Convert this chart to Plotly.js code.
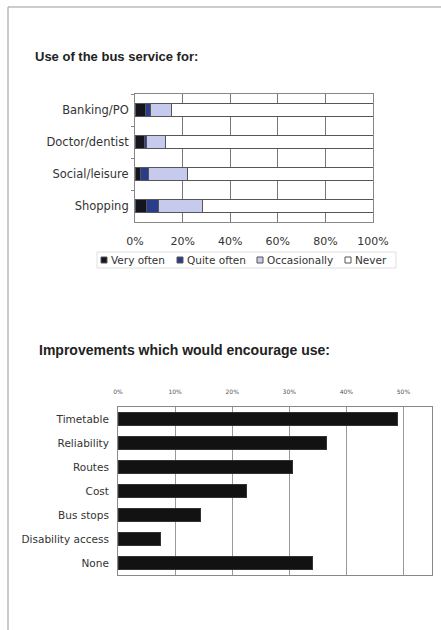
<!DOCTYPE html>
<html>
<head>
<meta charset="utf-8">
<script src="https://cdn.plot.ly/plotly-3.0.1.min.js"></script>
<style>
html,body{margin:0;padding:0;background:#fff;}
#chart{width:441px;height:630px;}
</style>
</head>
<body>
<div id="chart"></div>
<script>
// Top chart: use of the bus service (share of respondents, %)
const useCategories = ['Banking/PO', 'Doctor/dentist', 'Social/leisure', 'Shopping'];
const veryOften    = [4.2, 4.0, 2.5, 5.0];
const quiteOften   = [2.5, 1.0, 3.0, 5.0];
const occasionally = [8.5, 8.0, 16.5, 18.5];
const never        = [84.8, 87.0, 78.0, 71.5];
const useSeriesNames = ['Very often', 'Quite often', 'Occasionally', 'Never'];
const useTickVals = [0, 20, 40, 60, 80, 100];
const useTickText = ['0%', '20%', '40%', '60%', '80%', '100%'];

// Bottom chart: improvements which would encourage use (fraction)
const improvCategories = ['Timetable', 'Reliability', 'Routes', 'Cost', 'Bus stops', 'Disability access', 'None'];
const improvValues = [0.49, 0.365, 0.305, 0.225, 0.145, 0.075, 0.34];
const improvTickVals = [0, 0.1, 0.2, 0.3, 0.4, 0.5];
const improvTickText = ['0%', '10%', '20%', '30%', '40%', '50%'];

const W = 441, H = 630;
const px = v => v / W;
const py = v => 1 - v / H;
const FONT = 'DejaVu Sans, Verdana, sans-serif';

const useColors = ['#15151f', '#2a3d8a', '#c6cbed', '#ffffff'];
const useSeries = [veryOften, quiteOften, occasionally, never];

const traces = useSeries.map((vals, i) => ({
  type: 'bar',
  orientation: 'h',
  name: useSeriesNames[i],
  y: useCategories,
  x: vals,
  xaxis: 'x',
  yaxis: 'y',
  width: 0.4,
  showlegend: false,
  marker: {color: useColors[i], line: {color: '#555555', width: 1}}
}));

traces.push({
  type: 'bar',
  orientation: 'h',
  name: 'Improvements',
  y: improvCategories,
  x: improvValues,
  xaxis: 'x2',
  yaxis: 'y2',
  width: 0.55,
  showlegend: false,
  marker: {color: '#121212', line: {color: '#333333', width: 1}}
});

// custom compact legend (Excel style: small square right next to the text)
const legendSymX = [101, 177, 257, 345];   // pixel layout of legend entries
const legendY = 260;
const legendShapes = [{
  type: 'rect', xref: 'paper', yref: 'paper',
  x0: px(97), x1: px(396), y0: py(268), y1: py(252),
  line: {color: '#e0e0e0', width: 1}, fillcolor: 'rgba(0,0,0,0)'
}];
const legendAnnots = [];
useSeriesNames.forEach((name, i) => {
  legendShapes.push({
    type: 'rect', xref: 'paper', yref: 'paper',
    x0: px(legendSymX[i]), x1: px(legendSymX[i] + 6),
    y0: py(legendY + 3), y1: py(legendY - 3),
    fillcolor: useColors[i], line: {color: '#555555', width: 1}
  });
  legendAnnots.push({
    text: name, xref: 'paper', yref: 'paper',
    x: px(legendSymX[i] + 8), y: py(legendY), xanchor: 'left', yanchor: 'middle',
    showarrow: false, font: {family: FONT, size: 10.5, color: '#333'}
  });
});

const layout = {
  width: W,
  height: H,
  margin: {l: 0, r: 0, t: 0, b: 0},
  paper_bgcolor: '#ffffff',
  plot_bgcolor: '#ffffff',
  barmode: 'stack',
  font: {family: FONT, color: '#222', size: 10},
  showlegend: false,
  xaxis: {
    domain: [px(135), px(373)],
    anchor: 'y',
    range: [0, 100],
    tickvals: useTickVals,
    ticktext: useTickText,
    showgrid: true,
    gridcolor: '#777777',
    gridwidth: 1,
    showline: true,
    linecolor: '#888888',
    mirror: true,
    ticks: '',
    zeroline: false,
    ticklabelstandoff: 9,
    tickfont: {family: FONT, size: 11, color: '#333'},
    fixedrange: true
  },
  yaxis: {
    domain: [py(222), py(94)],
    anchor: 'x',
    autorange: 'reversed',
    type: 'category',
    showline: true,
    linecolor: '#888888',
    mirror: true,
    ticks: 'outside',
    tickson: 'boundaries',
    ticklen: 3,
    tickcolor: '#888888',
    ticklabelstandoff: 3,
    tickfont: {family: FONT, size: 11.5, color: '#333'},
    fixedrange: true
  },
  xaxis2: {
    domain: [px(118), px(432)],
    anchor: 'y2',
    side: 'top',
    range: [0, 0.55],
    tickvals: improvTickVals,
    ticktext: improvTickText,
    showgrid: true,
    gridcolor: '#999999',
    showline: true,
    linecolor: '#888888',
    mirror: true,
    ticks: '',
    zeroline: false,
    ticklabelstandoff: 10,
    tickfont: {family: FONT, size: 6, color: '#555'},
    fixedrange: true
  },
  yaxis2: {
    domain: [py(575), py(407)],
    anchor: 'x2',
    autorange: 'reversed',
    type: 'category',
    showline: true,
    linecolor: '#888888',
    mirror: true,
    ticks: '',
    ticklabelstandoff: 6,
    tickfont: {family: FONT, size: 10.5, color: '#333'},
    fixedrange: true
  },
  annotations: [
    {text: '<b>Use of the bus service for:</b>', xref: 'paper', yref: 'paper',
     x: px(33), y: py(56), xanchor: 'left', yanchor: 'middle', showarrow: false,
     font: {family: 'Liberation Sans, Arial, sans-serif', size: 13, color: '#222'}},
    {text: '<b>Improvements which would encourage use:</b>', xref: 'paper', yref: 'paper',
     x: px(37), y: py(350), xanchor: 'left', yanchor: 'middle', showarrow: false,
     font: {family: 'Liberation Sans, Arial, sans-serif', size: 14, color: '#222'}}
  ].concat(legendAnnots),
  shapes: [
    {type: 'line', xref: 'paper', yref: 'paper', x0: px(8), x1: px(8), y0: 0, y1: py(7),
     line: {color: '#999999', width: 1}},
    {type: 'line', xref: 'paper', yref: 'paper', x0: px(8), x1: 1, y0: py(7), y1: py(7),
     line: {color: '#999999', width: 1}}
  ].concat(legendShapes)
};

Plotly.newPlot('chart', traces, layout, {displayModeBar: false, staticPlot: true});
</script>
</body>
</html>
